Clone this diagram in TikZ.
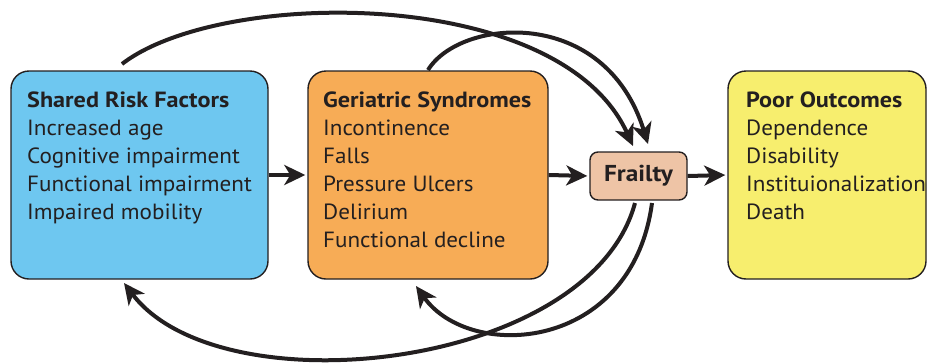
\documentclass[tikz,border=0pt]{standalone}
\usepackage{fontspec}
\setmainfont{PT Sans}[FakeStretch=1.05, BoldFeatures={FakeStretch=1.1}]
\usetikzlibrary{arrows.meta}
\definecolor{ink}{HTML}{231F20}
\definecolor{boxblue}{RGB}{110,199,240}
\definecolor{boxorange}{RGB}{247,172,86}
\definecolor{boxfrail}{RGB}{238,196,166}
\definecolor{boxyellow}{RGB}{247,238,110}
\tikzset{
  bigbox/.style={rectangle, rounded corners=18pt, draw=ink, line width=1.4pt,
    minimum height=208pt, inner sep=0pt},
  txt/.style={anchor=base west, inner sep=0pt, text=ink, font=\fontsize{22}{26}\selectfont},
  ttl/.style={txt, font=\fontsize{22}{26}\selectfont\bfseries},
  conn/.style={draw=ink, line width=4pt, -{Stealth[length=21pt,width=20pt,inset=6pt]}},
}
\begin{document}
\begin{tikzpicture}[x=1pt,y=-1pt]
\useasboundingbox (0,0) rectangle (927,362);
\clip (0,0) rectangle (927,362);
% boxes
\node[bigbox, fill=boxblue, minimum width=257pt] (risk) at (139.5,175) {};
\node[bigbox, fill=boxorange, minimum width=240pt] (geri) at (428,175) {};
\node[bigbox, fill=boxyellow, minimum width=198pt] (poor) at (827,175) {};
\node[rectangle, rounded corners=8pt, draw=ink, line width=1.4pt, fill=boxfrail,
  minimum width=97pt, minimum height=48pt, inner sep=0pt, text=ink,
  font=\fontsize{23}{26}\selectfont\bfseries] (frail) at (638.5,176) {Frailty};
% texts
\node[ttl] (t1) at (27,107) {Shared Risk Factors};
\foreach \t [count=\i] in {Increased age, Cognitive impairment, Functional impairment, Impaired mobility}
  \node[txt] (r\i) at (27,{107+28*\i}) {\t};
\node[ttl] (t2) at (323,107) {Geriatric Syndromes};
\foreach \t [count=\i] in {Incontinence, Falls, Pressure Ulcers, Delirium, Functional decline}
  \node[txt] (g\i) at (323,{107+28*\i}) {\t};
\node[ttl] (t3) at (746,107) {Poor Outcomes};
\foreach \t [count=\i] in {Dependence, Disability, Instituionalization, Death}
  \node[txt] (p\i) at (746,{107+28*\i}) {\t};
% straight connectors
\draw[conn, shorten >=2pt] (risk.east) -- (geri.west);
\draw[conn, shorten >=2pt] (geri.west -| geri.east) -- (frail.west);
\draw[conn, shorten >=2pt] (frail.east) -- (poor.west);
% curve end points
\coordinate (a1) at (122,64);
\coordinate (a1e) at (633,146);
\coordinate (a2) at (428,70);
\coordinate (a2e) at (648,144);
\coordinate (b1) at (635,203);
\coordinate (b1e) at (124,283);
\coordinate (b2) at (652,203);
\coordinate (b2e) at (416,286);
\draw[conn] (a1) .. controls (220,-12) and (560,-15) .. (a1e);
\draw[conn] (a2) .. controls (460,18) and (605,5) .. (a2e);
\draw[conn] (b1) .. controls (590,370) and (220,410) .. (b1e);
\draw[conn] (b2) .. controls (632,352) and (470,362) .. (b2e);
\end{tikzpicture}
\end{document}
